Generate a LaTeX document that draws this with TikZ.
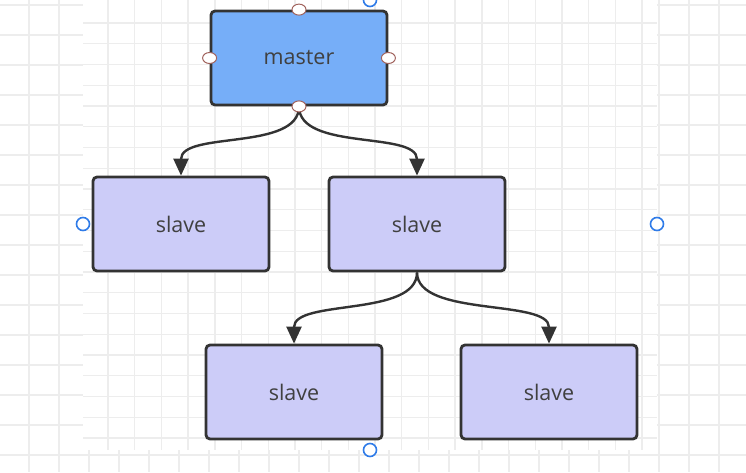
\documentclass[tikz,border=0pt]{standalone}
\usepackage{fontspec}
\setmainfont{Open Sans}
\usetikzlibrary{arrows.meta,positioning,shapes.geometric}
\definecolor{MasterBlue}{HTML}{76AEF8}
\definecolor{SlaveLilac}{HTML}{CCCCF8}
\definecolor{EdgeDark}{HTML}{333333}
\definecolor{LabelGray}{HTML}{404040}
\definecolor{GridGray}{HTML}{EDEDED}
\definecolor{HandleBlue}{HTML}{2F7BE8}
\definecolor{PortRed}{HTML}{A0625C}

\begin{document}
\begin{tikzpicture}[
  x=1pt,y=-1pt,
  box/.style={rounded corners=4pt,draw=EdgeDark,line width=2.8pt,fill=SlaveLilac,
              minimum width=176pt,minimum height=94pt,align=center,
              font=\fontsize{21.5}{24}\selectfont,text=LabelGray},
  arrow/.style={-{Triangle[length=17pt,width=15pt]},line width=2.4pt,color=EdgeDark},
  port/.style={ellipse,draw=PortRed,fill=white,line width=1pt,minimum width=14pt,minimum height=11pt,inner sep=0pt},
  handle/.style={circle,draw=HandleBlue,line width=1.6pt,fill=white,minimum size=13pt,inner sep=0pt},
  gridline/.style={draw=GridGray,line width=1.8pt}
]
  % canvas grid
  \useasboundingbox (0,0) rectangle (746,472);
  \fill[white] (0,0) rectangle (746,472);
  \foreach \gx in {29,59,...,746} \draw[gridline] (\gx,0) -- (\gx,472);
  \foreach \gy in {5,35,...,472} \draw[gridline] (0,\gy) -- (746,\gy);
  \fill[white] (83,0) rectangle (657,450);
  \foreach \k in {0,...,20} \draw[gridline,line width=1.4pt] (108+26.7*\k,0) -- (108+26.7*\k,450);
  \foreach \k in {0,...,20} \draw[gridline,line width=1.4pt] (83,23+20.75*\k) -- (657,23+20.75*\k);

  % nodes
  \node[box,fill=MasterBlue] (master) at (299,58) {master};
  \node[box] (slaveA) at (181,224) {slave};
  \node[box] (slaveB) at (417,224) {slave};
  \node[box] (slaveC) at (294,392) {slave};
  \node[box] (slaveD) at (549,392) {slave};

  % connectors
  \draw[arrow] (master.south) .. controls +(0,45) and +(0,-45) .. (slaveA.north);
  \draw[arrow] (master.south) .. controls +(0,45) and +(0,-45) .. (slaveB.north);
  \draw[arrow] (slaveB.south) .. controls +(0,45) and +(0,-45) .. (slaveC.north);
  \draw[arrow] (slaveB.south) .. controls +(0,45) and +(0,-45) .. (slaveD.north);

  % ports of the selected box
  \node[port] (portN) at (master.north) {};
  \node[port] (portW) at (master.west) {};
  \node[port] (portE) at (master.east) {};
  \node[port] (portS) at (master.south) {};

  % selection handles
  \node[handle] (handleN) at (370,0) {};
  \node[handle] (handleW) at (83,224) {};
  \node[handle] (handleE) at (657,224) {};
  \node[handle] (handleS) at (370,450) {};
\end{tikzpicture}
\end{document}
